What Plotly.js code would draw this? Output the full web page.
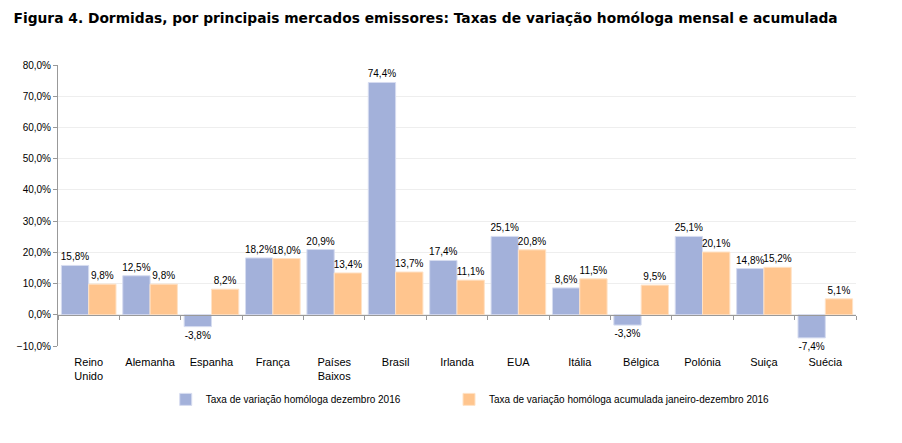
<!DOCTYPE html>
<html><head><meta charset="utf-8">
<script src="https://cdn.plot.ly/plotly-3.0.1.min.js"></script>
<style>body{margin:0;background:#fff}#c{width:902px;height:443px}</style>
</head><body><div id="c"></div>
<script>
const categories = ["Reino<br>Unido","Alemanha","Espanha","França","Países<br>Baixos","Brasil","Irlanda","EUA","Itália","Bélgica","Polónia","Suiça","Suécia"];
const dezembro = [15.8,12.5,-3.8,18.2,20.9,74.4,17.4,25.1,8.6,-3.3,25.1,14.8,-7.4];
const acumulada = [9.8,9.8,8.2,18.0,13.4,13.7,11.1,20.8,11.5,9.5,20.1,15.2,5.1];
const seriesNames = ["Taxa de variação homóloga dezembro 2016","Taxa de variação homóloga acumulada janeiro-dezembro 2016"];

const common = {type:'bar', x:categories, texttemplate:'%{y:.1f}%', textposition:'outside', constraintext:'none',
  textfont:{family:'Arial, Liberation Sans, sans-serif', size:10, color:'#000'}, cliponaxis:false,
  hoverinfo:'skip'};
const data = [
  Object.assign({}, common, {y:dezembro, name:seriesNames[0], legend:'legend', marker:{color:'#A3B1DA', line:{color:'#D6DCF0', width:1}}}),
  Object.assign({}, common, {y:acumulada, name:seriesNames[1], legend:'legend2', marker:{color:'#FFC58E', line:{color:'#FFE2C6', width:1}}}),
  {type:'bar', x:categories, y:categories.map(()=>null), xaxis:'x2', showlegend:false, hoverinfo:'skip'}
];
const legendBase = {orientation:'h', xanchor:'left', y:-0.19, yanchor:'middle', font:{size:10, color:'#000'}, itemwidth:30, bgcolor:'rgba(0,0,0,0)'};
const layout = {
  width:902, height:443,
  margin:{l:58, r:46, t:65, b:97},
  separators:',.',
  paper_bgcolor:'#fff', plot_bgcolor:'#fff',
  title:{text:'Figura 4. Dormidas, por principais mercados emissores: Taxas de variação homóloga mensal e acumulada',
    font:{family:'DejaVu Sans, Verdana, sans-serif', size:13.8, color:'#000', weight:'bold'},
    x:0.015, xanchor:'left', y:0.96, yanchor:'middle'},
  barmode:'group', bargap:0.11, bargroupgap:0,
  font:{family:'Arial, Liberation Sans, sans-serif', size:10, color:'#000'},
  xaxis:{type:'category', showline:false, ticks:'', showgrid:false,
    tickfont:{size:11}, ticklabelstandoff:8},
  xaxis2:{type:'category', overlaying:'x', matches:'x', anchor:'free', position:1/9, showticklabels:false,
    ticks:'outside', ticklen:4, tickcolor:'#999', tickson:'boundaries', showline:true, linecolor:'#999', linewidth:1, showgrid:false},
  yaxis:{range:[-10,80], dtick:10, tickformat:'.1f', ticksuffix:'%', showgrid:true, gridcolor:'#eeeeee',
    zeroline:false, showline:true, linecolor:'#999', ticks:'outside', ticklen:4, tickcolor:'#999',
    tickfont:{size:10}},
  legend:Object.assign({}, legendBase, {x:0.135}),
  legend2:Object.assign({}, legendBase, {x:0.49})
};
Plotly.newPlot('c', data, layout, {displayModeBar:false, staticPlot:true});
</script></body></html>
